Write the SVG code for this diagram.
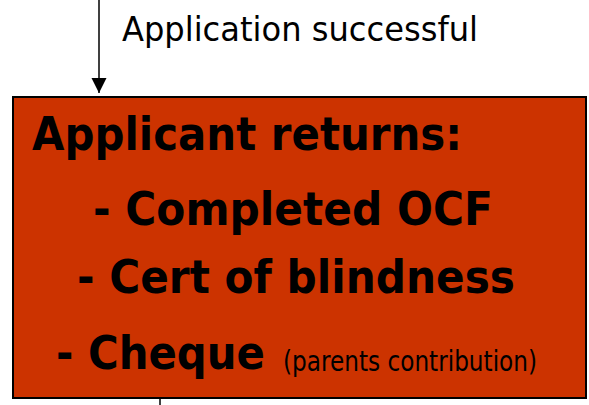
<svg xmlns="http://www.w3.org/2000/svg" width="589" height="405" viewBox="0 0 589 405">
  <style>
    .conn { stroke: #000; stroke-width: 1.5; fill: none; }
    .box { fill: #CC3300; stroke: #000; stroke-width: 2; }
    .bold { font-family: "DejaVu Sans", "Liberation Sans", sans-serif; font-weight: bold; font-size: 47px; fill: #000; }
    .reg { font-family: "DejaVu Sans", "Liberation Sans", sans-serif; font-size: 33px; fill: #000; }
    .small { font-family: "DejaVu Sans", "Liberation Sans", sans-serif; font-size: 28px; fill: #000; }
  </style>
  <defs>
    <marker id="arrow" markerUnits="userSpaceOnUse" markerWidth="16" markerHeight="16" refX="15" refY="7.5" orient="auto">
      <path d="M0,0 L15,7.5 L0,15 z" fill="#000"/>
    </marker>
  </defs>
  <rect width="589" height="405" fill="#fff"/>
  <g id="connectors">
    <line class="conn" x1="99" y1="0" x2="99" y2="93" marker-end="url(#arrow)"/>
    <line class="conn" x1="160" y1="399" x2="160" y2="405"/>
    <text class="reg" x="122" y="41" textLength="356" lengthAdjust="spacingAndGlyphs">Application successful</text>
  </g>
  <g id="applicant-returns">
    <rect class="box" x="13" y="97" width="573" height="301"/>
    <text class="bold" x="32" y="150" textLength="430" lengthAdjust="spacingAndGlyphs" font-size="49">Applicant returns:</text>
    <text class="bold" x="93" y="225" textLength="400" lengthAdjust="spacingAndGlyphs">- Completed OCF</text>
    <text class="bold" x="77" y="293" textLength="438" lengthAdjust="spacingAndGlyphs">- Cert of blindness</text>
    <text class="bold" x="56" y="369" textLength="209" lengthAdjust="spacingAndGlyphs">- Cheque</text>
    <text class="small" x="283" y="371" textLength="254" lengthAdjust="spacingAndGlyphs">(parents contribution)</text>
  </g>
</svg>
